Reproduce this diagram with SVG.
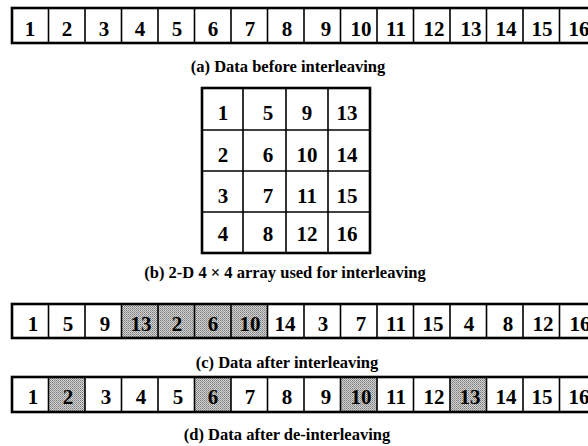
<svg xmlns="http://www.w3.org/2000/svg" width="588" height="446" viewBox="0 0 588 446">
<style>
.outer{fill:none;stroke:#000;stroke-width:2.6}
.div{stroke:#000;stroke-width:1.6}
.num{font-family:"Liberation Serif","Times New Roman",serif;font-weight:bold;font-size:21px;text-anchor:middle;fill:#000}
.cap{font-family:"Liberation Serif","Times New Roman",serif;font-weight:bold;font-size:16.5px;text-anchor:middle;fill:#000}
.sh{fill:url(#dots)}
</style>
<defs>
<pattern id="dots" width="2" height="2" patternUnits="userSpaceOnUse">
<rect width="2" height="2" fill="#d4d4d4"/>
<rect width="1" height="1" fill="#7a7a7a"/>
<rect x="1" y="1" width="1" height="1" fill="#9a9a9a"/>
</pattern>
</defs>
<rect width="588" height="446" fill="#fff"/>

<g id="row-a">
<rect class="outer" x="12" y="8" width="584" height="35" fill="#fff"/>
<g class="div">
<line x1="48.5" y1="8" x2="48.5" y2="43"/><line x1="85" y1="8" x2="85" y2="43"/><line x1="121.5" y1="8" x2="121.5" y2="43"/><line x1="158" y1="8" x2="158" y2="43"/><line x1="194.5" y1="8" x2="194.5" y2="43"/><line x1="231" y1="8" x2="231" y2="43"/><line x1="267.5" y1="8" x2="267.5" y2="43"/><line x1="304" y1="8" x2="304" y2="43"/><line x1="340.5" y1="8" x2="340.5" y2="43"/><line x1="377" y1="8" x2="377" y2="43"/><line x1="413.5" y1="8" x2="413.5" y2="43"/><line x1="450" y1="8" x2="450" y2="43"/><line x1="486.5" y1="8" x2="486.5" y2="43"/><line x1="523" y1="8" x2="523" y2="43"/><line x1="559.5" y1="8" x2="559.5" y2="43"/>
</g>
<g class="num">
<text x="30" y="36">1</text><text x="67" y="36">2</text><text x="104" y="36">3</text><text x="140" y="36">4</text><text x="177" y="36">5</text><text x="213" y="36">6</text><text x="250" y="36">7</text><text x="287" y="36">8</text><text x="326" y="36">9</text><text x="361" y="36">10</text><text x="396" y="36">11</text><text x="434" y="36">12</text><text x="471" y="36">13</text><text x="506" y="36">14</text><text x="542" y="36">15</text><text x="579" y="36">16</text>
</g>
</g>
<text class="cap" x="288" y="72">(a) Data before interleaving</text>

<g id="grid">
<rect class="outer" x="202" y="88" width="168" height="165" fill="#fff"/>
<g class="div">
<line x1="243" y1="88" x2="243" y2="253"/><line x1="286" y1="88" x2="286" y2="253"/><line x1="328" y1="88" x2="328" y2="253"/>
<line x1="202" y1="130" x2="370" y2="130"/><line x1="202" y1="171" x2="370" y2="171"/><line x1="202" y1="212" x2="370" y2="212"/>
</g>
<g class="num">
<text x="223" y="120">1</text><text x="268" y="120">5</text><text x="307" y="120">9</text><text x="347" y="120">13</text>
<text x="223" y="162">2</text><text x="268" y="162">6</text><text x="307" y="162">10</text><text x="347" y="162">14</text>
<text x="223" y="203">3</text><text x="268" y="203">7</text><text x="307" y="203">11</text><text x="347" y="203">15</text>
<text x="223" y="241">4</text><text x="268" y="241">8</text><text x="307" y="241">12</text><text x="347" y="241">16</text>
</g>
</g>
<text class="cap" x="285" y="278">(b) 2-D 4 × 4 array used for interleaving</text>

<g id="row-c">
<rect x="12" y="304" width="584" height="34" fill="#fff"/>
<rect class="sh" x="121.5" y="304" width="146" height="34"/>
<rect class="outer" x="12" y="304" width="584" height="34"/>
<g class="div">
<line x1="48.5" y1="304" x2="48.5" y2="338"/><line x1="85" y1="304" x2="85" y2="338"/><line x1="121.5" y1="304" x2="121.5" y2="338"/><line x1="158" y1="304" x2="158" y2="338"/><line x1="194.5" y1="304" x2="194.5" y2="338"/><line x1="231" y1="304" x2="231" y2="338"/><line x1="267.5" y1="304" x2="267.5" y2="338"/><line x1="304" y1="304" x2="304" y2="338"/><line x1="340.5" y1="304" x2="340.5" y2="338"/><line x1="377" y1="304" x2="377" y2="338"/><line x1="413.5" y1="304" x2="413.5" y2="338"/><line x1="450" y1="304" x2="450" y2="338"/><line x1="486.5" y1="304" x2="486.5" y2="338"/><line x1="523" y1="304" x2="523" y2="338"/><line x1="559.5" y1="304" x2="559.5" y2="338"/>
</g>
<g class="num">
<text x="33" y="331">1</text><text x="68" y="331">5</text><text x="105" y="331">9</text><text x="141" y="331">13</text><text x="177" y="331">2</text><text x="213" y="331">6</text><text x="250" y="331">10</text><text x="285" y="331">14</text><text x="323" y="331">3</text><text x="361" y="331">7</text><text x="396" y="331">11</text><text x="433" y="331">15</text><text x="469" y="331">4</text><text x="508" y="331">8</text><text x="543" y="331">12</text><text x="580" y="331">16</text>
</g>
</g>
<text class="cap" x="287" y="368">(c) Data after interleaving</text>

<g id="row-d">
<rect x="12" y="377" width="584" height="35" fill="#fff"/>
<rect class="sh" x="48.5" y="377" width="36.5" height="35"/>
<rect class="sh" x="194.5" y="377" width="36.5" height="35"/>
<rect class="sh" x="340.5" y="377" width="36.5" height="35"/>
<rect class="sh" x="450" y="377" width="36.5" height="35"/>
<rect class="outer" x="12" y="377" width="584" height="35"/>
<g class="div">
<line x1="48.5" y1="377" x2="48.5" y2="412"/><line x1="85" y1="377" x2="85" y2="412"/><line x1="121.5" y1="377" x2="121.5" y2="412"/><line x1="158" y1="377" x2="158" y2="412"/><line x1="194.5" y1="377" x2="194.5" y2="412"/><line x1="231" y1="377" x2="231" y2="412"/><line x1="267.5" y1="377" x2="267.5" y2="412"/><line x1="304" y1="377" x2="304" y2="412"/><line x1="340.5" y1="377" x2="340.5" y2="412"/><line x1="377" y1="377" x2="377" y2="412"/><line x1="413.5" y1="377" x2="413.5" y2="412"/><line x1="450" y1="377" x2="450" y2="412"/><line x1="486.5" y1="377" x2="486.5" y2="412"/><line x1="523" y1="377" x2="523" y2="412"/><line x1="559.5" y1="377" x2="559.5" y2="412"/>
</g>
<g class="num">
<text x="33" y="404">1</text><text x="68" y="404">2</text><text x="106" y="404">3</text><text x="141" y="404">4</text><text x="178" y="404">5</text><text x="213" y="404">6</text><text x="250" y="404">7</text><text x="287" y="404">8</text><text x="326" y="404">9</text><text x="361" y="404">10</text><text x="396" y="404">11</text><text x="434" y="404">12</text><text x="470" y="404">13</text><text x="506" y="404">14</text><text x="542" y="404">15</text><text x="579" y="404">16</text>
</g>
</g>
<text class="cap" x="287" y="440">(d) Data after de-interleaving</text>
</svg>
